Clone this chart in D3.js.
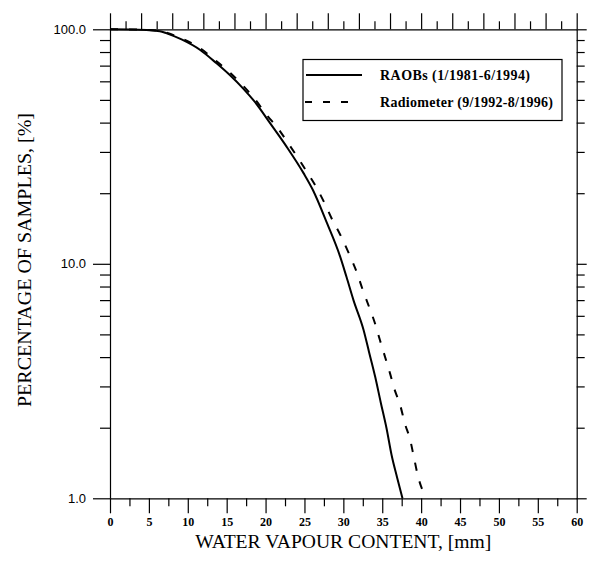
<!DOCTYPE html>
<html>
<head>
<meta charset="utf-8">
<script src="https://cdn.jsdelivr.net/npm/d3@7/dist/d3.min.js"></script>
<style>
  body { margin: 0; background: #fff; }
  svg { display: block; }
</style>
</head>
<body>
<div id="chart"></div>
<script>
// Kurvedata lest av figuren: [vanndamp mm, prosent av prøver]
const raobs = [
  [0, 100], [2.5, 99.9], [4.7, 99.3], [6.4, 98.2], [7.3, 96.1], [9.2, 90.5], [11.6, 81.6],
  [13.7, 71.6], [15.4, 63.8], [17.1, 56], [18.6, 49.1], [20.6, 39.7], [22.7, 31.6],
  [24.9, 24.3], [26.1, 20.6], [27.9, 14.9], [29.6, 10.7], [30.4, 8.8], [31.3, 7.0],
  [32.6, 5.22], [33.3, 4.21], [34.1, 3.29], [34.8, 2.57], [35.55, 1.99], [36.2, 1.53],
  [36.9, 1.23], [37.6, 1.0]
];
const radiometer = [
  [0, 100], [2.5, 99.9], [4.7, 99.4], [6.4, 98.5], [7.3, 96.6], [9.2, 91.5], [11.6, 83],
  [13.7, 73], [15.4, 65.5], [17.1, 57.5], [18.6, 50.5], [20.15, 43.1], [21.6, 37.8],
  [22.9, 32.7], [24.2, 28.2], [25.3, 24.7], [26.6, 21], [27.6, 18.1], [28.5, 15.6],
  [29.6, 13.3], [30.8, 10.9], [31.7, 9.25], [32.5, 7.73], [33.3, 6.56], [34, 5.66],
  [34.7, 4.73], [35.35, 4.02], [36, 3.41], [36.6, 2.9], [37.3, 2.5], [37.9, 2.09],
  [38.6, 1.77], [39.1, 1.48], [39.6, 1.24], [40.1, 1.1], [40.75, 1.0]
];
const seriesNames = ["RAOBs (1/1981-6/1994)", "Radiometer (9/1992-8/1996)"];
const xMajor = d3.range(0, 61, 5);
const xMinor = d3.range(2.5, 60, 5);
const yMajor = [1, 10, 100];
const yMinor = [2, 3, 4, 5, 6, 7, 8, 9, 20, 30, 40, 50, 60, 70, 80, 90];
const topTicks = d3.range(0, 31);   // øvre akse: 30 intervaller

const W = 597, H = 561;
const pLeft = 110, pRight = 576.7, pTop = 29.3, pBottom = 498.3;

const svg = d3.select("#chart").append("svg")
  .attr("width", W).attr("height", H);

const x = d3.scaleLinear().domain([0, 60]).range([pLeft, pRight]);
const y = d3.scaleLog().domain([1, 100]).range([pBottom, pTop]);
const xTop = d3.scaleLinear().domain([0, 30]).range([pLeft, pRight]);

// Nederste akse
const gB = svg.append("g").attr("transform", `translate(0,${pBottom})`);
gB.call(d3.axisBottom(x).tickValues(xMajor).tickSize(15).tickSizeOuter(0).tickPadding(4.5)
  .tickFormat(d3.format("d")));
gB.append("g").call(d3.axisBottom(x).tickValues(xMinor).tickSize(8).tickFormat(""))
  .select(".domain").remove();
gB.selectAll("text").attr("font-family", "'Liberation Serif', serif")
  .attr("font-weight", "bold").attr("font-size", 12).attr("fill", "#000");

// Øverste akse
const gT = svg.append("g").attr("transform", `translate(0,${pTop})`);
gT.call(d3.axisTop(xTop).tickValues(topTicks).tickSizeOuter(0).tickFormat(""));
gT.selectAll(".tick line").attr("y2", d => d % 2 === 0 ? -16 : -8);

// Venstre akse
const gL = svg.append("g").attr("transform", `translate(${pLeft},0)`);
gL.call(d3.axisLeft(y).tickValues(yMajor).tickSize(17).tickSizeOuter(0).tickPadding(7)
  .tickFormat(d3.format(".1f")));
gL.append("g").call(d3.axisLeft(y).tickValues(yMinor).tickSize(10).tickFormat(""))
  .select(".domain").remove();
gL.selectAll("text").attr("font-family", "'Liberation Sans', Arial, sans-serif")
  .attr("font-size", 13).attr("fill", "#000");

// Høyre akse
const gR = svg.append("g").attr("transform", `translate(${pRight},0)`);
gR.call(d3.axisRight(y).tickValues(yMajor).tickSize(10).tickSizeOuter(0).tickFormat(""));
gR.append("g").call(d3.axisRight(y).tickValues(yMinor).tickSize(8).tickFormat(""))
  .select(".domain").remove();

svg.selectAll(".domain, .tick line").attr("stroke", "#000").attr("stroke-width", 1.2);

// Kurver
const line = d3.line().x(d => x(d[0])).y(d => y(d[1])).curve(d3.curveMonotoneX);
svg.append("path").datum(raobs).attr("d", line)
  .attr("fill", "none").attr("stroke", "#000").attr("stroke-width", 2);
svg.append("path").datum(radiometer).attr("d", line)
  .attr("fill", "none").attr("stroke", "#000").attr("stroke-width", 2)
  .attr("stroke-dasharray", "8,11");

// Forklaring
const lg = svg.append("g");
lg.append("rect").attr("x", 303).attr("y", 59.5).attr("width", 259).attr("height", 61)
  .attr("fill", "#fff").attr("stroke", "#000").attr("stroke-width", 1.2);
lg.append("line").attr("x1", 306).attr("x2", 362).attr("y1", 75).attr("y2", 75)
  .attr("stroke", "#000").attr("stroke-width", 2);
lg.append("line").attr("x1", 305).attr("x2", 351).attr("y1", 102).attr("y2", 102)
  .attr("stroke", "#000").attr("stroke-width", 2).attr("stroke-dasharray", "7,11");
lg.selectAll("text.lab").data(seriesNames).enter().append("text")
  .attr("class", "lab")
  .attr("x", 380).attr("y", (d, i) => i === 0 ? 80 : 107)
  .attr("textLength", (d, i) => i === 0 ? 150 : 173).attr("lengthAdjust", "spacing")
  .attr("font-family", "'Liberation Serif', serif").attr("font-weight", "bold")
  .attr("font-size", 14).text(d => d);

// Aksetitler
svg.append("text").attr("x", (pLeft + pRight) / 2).attr("y", 548)
  .attr("text-anchor", "middle").attr("textLength", 296).attr("lengthAdjust", "spacingAndGlyphs")
  .attr("font-family", "'Liberation Serif', serif").attr("font-size", 19)
  .text("WATER VAPOUR CONTENT, [mm]");
svg.append("text")
  .attr("transform", "translate(31,260) rotate(-90)")
  .attr("text-anchor", "middle").attr("textLength", 294).attr("lengthAdjust", "spacingAndGlyphs")
  .attr("font-family", "'Liberation Serif', serif").attr("font-size", 19)
  .text("PERCENTAGE OF SAMPLES, [%]");
</script>
</body>
</html>
